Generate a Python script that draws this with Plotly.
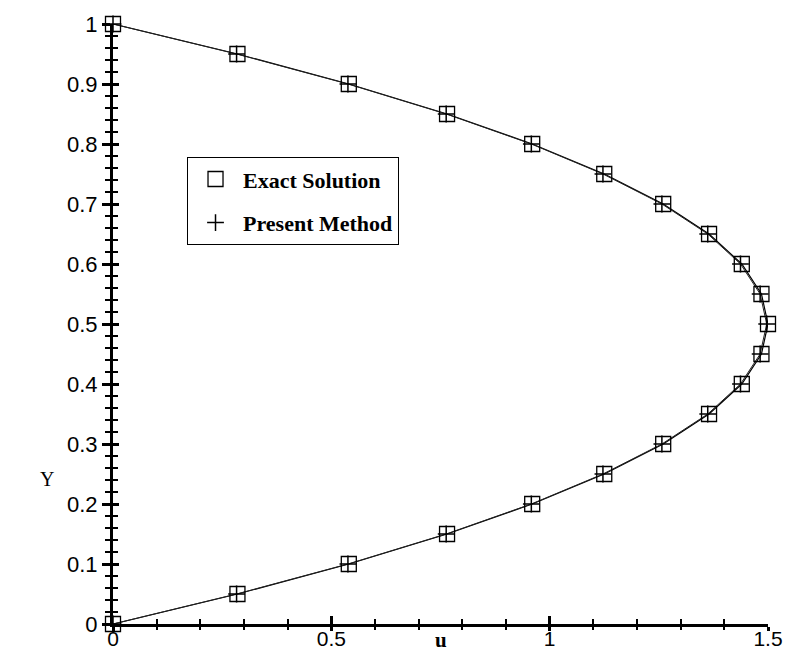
import plotly.graph_objects as go

# Data
y_exact = [0.0, 0.05, 0.1, 0.15, 0.2, 0.25, 0.3, 0.35, 0.4, 0.45, 0.5,
           0.55, 0.6, 0.65, 0.7, 0.75, 0.8, 0.85, 0.9, 0.95, 1.0]
u_exact = [0.0, 0.285, 0.54, 0.765, 0.96, 1.125, 1.26, 1.365, 1.44, 1.485, 1.5,
           1.485, 1.44, 1.365, 1.26, 1.125, 0.96, 0.765, 0.54, 0.285, 0.0]
y_present = [0.0, 0.05, 0.1, 0.15, 0.2, 0.25, 0.3, 0.35, 0.4, 0.45, 0.5,
             0.55, 0.6, 0.65, 0.7, 0.75, 0.8, 0.85, 0.9, 0.95, 1.0]
u_present = [0.0, 0.283, 0.538, 0.763, 0.958, 1.122, 1.257, 1.362, 1.437, 1.482, 1.497,
             1.482, 1.437, 1.362, 1.257, 1.122, 0.958, 0.763, 0.538, 0.283, 0.0]

x_ticks = [0, 0.5, 1, 1.5]
x_ticklabels = ["0", "0.5", "1", "1.5"]
y_ticks = [0, 0.1, 0.2, 0.3, 0.4, 0.5, 0.6, 0.7, 0.8, 0.9, 1.0]
y_ticklabels = ["0", "0.1", "0.2", "0.3", "0.4", "0.5", "0.6", "0.7", "0.8", "0.9", "1"]

serif = "Liberation Serif, Times New Roman, serif"
sans = "Liberation Sans, Arial, sans-serif"

fig = go.Figure()

# connecting lines (not in legend)
fig.add_trace(go.Scatter(x=u_exact, y=y_exact, mode="lines",
                         line=dict(color="black", width=1.2),
                         showlegend=False, hoverinfo="skip", cliponaxis=False))
fig.add_trace(go.Scatter(x=u_present, y=y_present, mode="lines",
                         line=dict(color="#222222", width=1.0),
                         showlegend=False, hoverinfo="skip", cliponaxis=False))

fig.add_trace(go.Scatter(x=u_exact, y=y_exact, mode="markers", name="Exact Solution",
                         legendgroup="a",
                         marker=dict(symbol="square-open", size=15, color="black",
                                     line=dict(width=1.3, color="black")),
                         cliponaxis=False))
fig.add_trace(go.Scatter(x=u_present, y=y_present, mode="markers", name="Present Method",
                         legendgroup="b",
                         marker=dict(symbol="cross-thin", size=12, color="black",
                                     line=dict(width=1.5, color="black")),
                         cliponaxis=False))

# dummy trace for overlay axes (inside halves of crossing ticks)
fig.add_trace(go.Scatter(x=[0], y=[0], xaxis="x2", yaxis="y2", mode="markers",
                         marker=dict(size=1, opacity=0), showlegend=False,
                         hoverinfo="skip"))

axis_common = dict(showgrid=False, zeroline=False, color="black", automargin=False)

fig.update_layout(
    width=786, height=653,
    margin=dict(l=113, r=18, t=24, b=29),
    paper_bgcolor="white", plot_bgcolor="white",
    xaxis=dict(range=[0, 1.5], tickvals=x_ticks, ticktext=x_ticklabels,
               ticks="outside", ticklen=4, tickwidth=2.5, tickcolor="black",
               showline=True, linewidth=3, linecolor="black",
               ticklabelstandoff=-10,
               tickfont=dict(family=sans, size=21, color="black"),
               minor=dict(dtick=0.1, ticks="outside", ticklen=3, tickwidth=1.5,
                          tickcolor="black", showgrid=False),
               **axis_common),
    yaxis=dict(range=[0, 1.0], tickvals=y_ticks, ticktext=y_ticklabels,
               ticks="outside", ticklen=8, tickwidth=2.5, tickcolor="black",
               showline=True, linewidth=3, linecolor="black",
               tickfont=dict(family=sans, size=22, color="black"),
               minor=dict(dtick=0.02, ticks="outside", ticklen=5, tickwidth=1.5,
                          tickcolor="black", showgrid=False),
               **axis_common),
    xaxis2=dict(overlaying="x", anchor="y2", range=[0, 1.5], matches="x",
                tickvals=x_ticks, ticks="inside", ticklen=8, tickwidth=2.5,
                tickcolor="black", showticklabels=False, showline=False,
                minor=dict(dtick=0.1, ticks="inside", ticklen=5, tickwidth=1.5,
                           tickcolor="black", showgrid=False),
                **axis_common),
    yaxis2=dict(overlaying="y", anchor="x2", range=[0, 1.0], matches="y",
                tickvals=y_ticks, ticks="inside", ticklen=6, tickwidth=2.5,
                tickcolor="black", showticklabels=False, showline=False,
                minor=dict(dtick=0.02, ticks="inside", ticklen=5, tickwidth=1.5,
                           tickcolor="black", showgrid=False),
                **axis_common),
    legend=dict(x=0.113, y=0.778, xanchor="left", yanchor="top",
                bgcolor="white", bordercolor="black", borderwidth=1,
                font=dict(family=serif, size=22, color="black", weight="bold"),
                tracegroupgap=12, itemwidth=45),
    showlegend=True,
)

fig.add_annotation(text="Y", x=-0.115, y=0.22, xref="paper", yref="paper",
                   showarrow=False, font=dict(family=serif, size=20, color="black"))
fig.add_annotation(text="<b>u</b>", x=0.75, y=-0.026, xref="x", yref="paper",
                   yanchor="middle", showarrow=False, borderpad=0,
                   font=dict(family=serif, size=21, color="black"))

fig.write_html("out.html")
